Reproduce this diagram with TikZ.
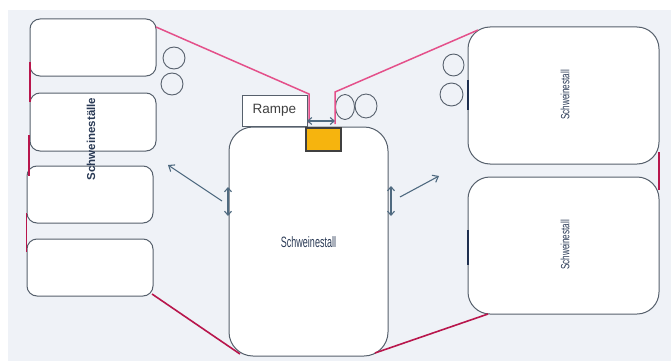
\documentclass[tikz,border=0pt]{standalone}
\usepackage{fontspec}
\setmainfont{Liberation Sans}
\usetikzlibrary{arrows.meta,shapes.geometric}
\definecolor{bgc}{HTML}{EFF2F7}
\definecolor{edge}{HTML}{56606C}
\definecolor{pinkl}{HTML}{E4508A}
\definecolor{redl}{HTML}{B8164C}
\definecolor{arr}{HTML}{4F6A80}
\definecolor{txt}{HTML}{2A3A55}
\definecolor{orng}{HTML}{F6B40E}
\definecolor{darkseg}{HTML}{1F3050}
\tikzset{
  lbox/.style={draw=edge, line width=1pt, fill=white, rounded corners=10pt,
    minimum width=126pt, minimum height=57pt, inner sep=0pt},
  rbox/.style={draw=edge, line width=1pt, fill=white, rounded corners=22pt,
    minimum width=191pt, minimum height=137pt, inner sep=0pt},
  ring/.style={draw=edge, line width=0.9pt, fill=none, ellipse, inner sep=0pt},
  pinkline/.style={draw=pinkl, line width=1.5pt},
  redline/.style={draw=redl, line width=1.6pt},
  dseg/.style={draw=darkseg, line width=1.5pt},
  arrline/.style={draw=arr, line width=1.1pt},
  dbl/.style={arrline, {Straight Barb[length=4pt,width=7pt]}-{Straight Barb[length=4pt,width=7pt]}},
  sgl/.style={arrline, -{Straight Barb[length=5pt,width=8pt]}},
}
\begin{document}
\begin{tikzpicture}[x=1pt,y=-1pt]
\useasboundingbox (0,0) rectangle (671,361);
\fill[white] (0,0) rectangle (671,361);
\fill[bgc] (8,10) rectangle (671,361);

% left boxes
\node[lbox] (b1) at (93,47.5) {};
\node[lbox, minimum height=58pt] (b2) at (93,122) {};
\node[lbox] (b3) at (90,194.5) {};
\node[lbox] (b4) at (90,267.5) {};
\node[rotate=90, font=\bfseries\fontsize{11.5}{13}\selectfont, text=txt] (lbl) at (91,139) {Schweineställe};

% circles left
\node[ring, minimum width=22pt, minimum height=22pt] (cl1) at (174,58) {};
\node[ring, minimum width=22pt, minimum height=22pt] (cl2) at (172,84) {};

% center box
\node[draw=edge, line width=1pt, fill=white, rounded corners=24pt,
  minimum width=159pt, minimum height=229pt] (c) at (308.5,241.5) {};
\node[text=txt, font=\fontsize{15}{17}\selectfont] (ctext) at (308.5,242) {\scalebox{0.6}[1]{Schweinestall}};

% ramp
\node[draw=edge, line width=1pt, fill=white, minimum width=65pt, minimum height=31pt,
  inner sep=0pt, font=\fontsize{13.5}{15}\selectfont, text=black!75] (rampe) at (274.5,110.5) {Rampe};
\node[draw=black!75, line width=1.1pt, fill=orng, minimum width=35pt, minimum height=23pt, inner sep=0pt] (or) at (323.5,139.5) {};

% center circles
\node[ring, minimum width=19pt, minimum height=25pt] (cc1) at (345,107) {};
\node[ring, minimum width=22pt, minimum height=24pt] (cc2) at (366,106) {};

% right boxes
\node[rbox] (r1) at (563.5,95.5) {};
\node[rbox] (r2) at (563.5,245.5) {};
\node[rotate=90, text=txt, font=\fontsize{12}{14}\selectfont] (rt1) at (565,95) {\scalebox{0.68}[1]{Schweinestall}};
\node[rotate=90, text=txt, font=\fontsize{12}{14}\selectfont] (rt2) at (565,245) {\scalebox{0.68}[1]{Schweinestall}};

% right circles
\node[ring, minimum width=21pt, minimum height=22pt] (cr1) at (453.5,65) {};
\node[ring, minimum width=23pt, minimum height=23pt] (cr2) at (451.5,94.5) {};

% coordinates
\coordinate (p1a) at (156,27);
\coordinate (p1b) at (309,94);
\coordinate (p1c) at (309,123);
\coordinate (p2a) at (335,124);
\coordinate (p2b) at (335,92);
\coordinate (p2c) at (478,30);
\coordinate (q1a) at (152,294);
\coordinate (q1b) at (240,354);
\coordinate (q2a) at (375,353);
\coordinate (q2b) at (488,314);
\coordinate (v1a) at (30,62);  \coordinate (v1b) at (30,102);
\coordinate (v2a) at (29,135); \coordinate (v2b) at (29,176);
\coordinate (v3a) at (26.5,213); \coordinate (v3b) at (26.5,252);
\coordinate (v4a) at (659,152); \coordinate (v4b) at (659,190);
\coordinate (d1a) at (468,80); \coordinate (d1b) at (468,110);
\coordinate (d2a) at (468,230); \coordinate (d2b) at (468,265);
\coordinate (a1a) at (307,121); \coordinate (a1b) at (335,121);
\coordinate (a2a) at (228,187); \coordinate (a2b) at (228,216);
\coordinate (a3a) at (391,186); \coordinate (a3b) at (391,216);
\coordinate (a4a) at (222,201); \coordinate (a4b) at (168,165);
\coordinate (a5a) at (400,197); \coordinate (a5b) at (439,176);

% connectors
\draw[pinkline] (p1a) -- (p1b) -- (p1c);
\draw[pinkline] (p2a) -- (p2b) -- (p2c);
\draw[redline] (q1a) -- (q1b);
\draw[redline] (q2a) -- (q2b);
\draw[redline] (v1a) -- (v1b);
\draw[redline] (v2a) -- (v2b);
\draw[redline] (v3a) -- (v3b);
\draw[redline] (v4a) -- (v4b);
\draw[dseg] (d1a) -- (d1b);
\draw[dseg] (d2a) -- (d2b);
\draw[dbl] (a1a) -- (a1b);
\draw[dbl] (a2a) -- (a2b);
\draw[dbl] (a3a) -- (a3b);
\draw[sgl] (a4a) -- (a4b);
\draw[sgl] (a5a) -- (a5b);
\end{tikzpicture}
\end{document}
